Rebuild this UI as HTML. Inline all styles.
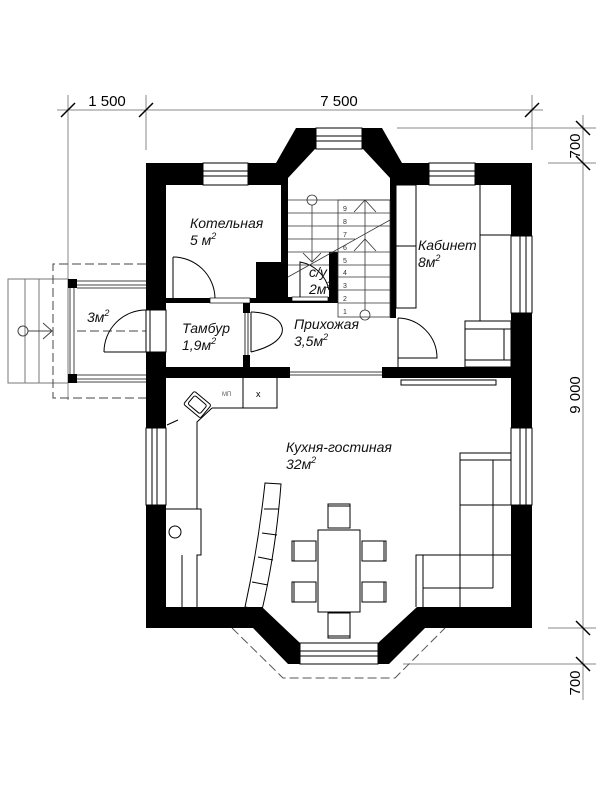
<!DOCTYPE html>
<html><head><meta charset="utf-8"><style>
html,body{margin:0;padding:0;background:#fff;}
svg{display:block;}
text{font-family:"Liberation Sans",sans-serif;}
.it{font-style:italic;font-size:14px;fill:#111;}
</style></head><body>
<svg width="600" height="800" viewBox="0 0 600 800" xmlns="http://www.w3.org/2000/svg">
<rect width="600" height="800" fill="#fff"/>
<g stroke="#888" stroke-width="1" fill="none">
<line x1="57" y1="110" x2="543" y2="110"/>
<line x1="68" y1="95" x2="68" y2="400"/>
<line x1="146" y1="95" x2="146" y2="150"/>
<line x1="532" y1="95" x2="532" y2="150"/>
<line x1="397" y1="128" x2="596" y2="128"/>
<line x1="548" y1="163" x2="596" y2="163"/>
<line x1="548" y1="628" x2="596" y2="628"/>
<line x1="403" y1="664" x2="596" y2="664"/>
<line x1="583" y1="115" x2="583" y2="700"/>
</g>
<g stroke="#000" stroke-width="1.5">
<line x1="61" y1="117" x2="75" y2="103"/>
<line x1="139" y1="117" x2="153" y2="103"/>
<line x1="525" y1="117" x2="539" y2="103"/>
<line x1="576" y1="121" x2="590" y2="135"/>
<line x1="576" y1="156" x2="590" y2="170"/>
<line x1="576" y1="621" x2="590" y2="635"/>
<line x1="576" y1="657" x2="590" y2="671"/>
</g>
<text x="107" y="106" font-size="15" text-anchor="middle">1 500</text>
<text x="339" y="106" font-size="15" text-anchor="middle">7 500</text>
<text transform="translate(580,146) rotate(-90)" font-size="15" text-anchor="middle">700</text>
<text transform="translate(580,395) rotate(-90)" font-size="15" text-anchor="middle">9 000</text>
<text transform="translate(580,683) rotate(-90)" font-size="15" text-anchor="middle">700</text>

<g stroke="#444" stroke-width="1" fill="none">
<rect x="8" y="279" width="60" height="104" stroke="#777"/>
<line x1="25" y1="279" x2="25" y2="383" stroke="#777"/>
<line x1="39" y1="279" x2="39" y2="383" stroke="#777"/>
<path d="M146 264 H53 V398 H146" stroke-dasharray="9,4"/>
<line x1="77" y1="331" x2="146" y2="331" stroke-dasharray="9,4"/>
<circle cx="23" cy="331" r="5"/>
<line x1="28" y1="331" x2="52" y2="331"/>
<polyline points="43,323 52,331 43,339"/>
<line x1="70" y1="288" x2="70" y2="374"/>
<line x1="74" y1="288" x2="74" y2="374"/>
<line x1="77" y1="281" x2="146" y2="281"/>
<line x1="77" y1="285" x2="146" y2="285"/>
<line x1="77" y1="288" x2="146" y2="288"/>
<line x1="77" y1="375" x2="146" y2="375"/>
<line x1="77" y1="379" x2="146" y2="379"/>
<line x1="77" y1="382" x2="146" y2="382"/>
</g>
<rect x="68" y="279" width="9" height="9" fill="#000"/>
<rect x="68" y="374" width="9" height="9" fill="#000"/>

<g stroke="#555" stroke-width="1" fill="none" stroke-dasharray="9,4">
<polyline points="232,628 283,678 395,678 445,628"/>
<polyline points="288,630 285,642"/>
<line x1="285" y1="628" x2="398" y2="628"/>
</g>

<polygon points="146,163 276,163 296,128 382,128 402,163 532,163 532,628 425,628 389,664 288,664 253,628 146,628" fill="#000"/>
<g fill="#fff">
<rect x="166" y="185" width="115" height="113"/>
<polygon points="288,178 315,149 363,149 390,178 390,367 250,367 250,303 288,303"/>
<rect x="166" y="303" width="77" height="64"/>
<rect x="396" y="185" width="115" height="182"/>
<polygon points="166,378 511,378 511,607 417,607 378,643 300,643 262,607 166,607"/>
<rect x="290" y="366" width="92" height="13"/>
<rect x="243" y="313" width="7" height="42"/>
<rect x="389" y="318" width="8" height="49"/>
</g>
<rect x="256" y="262" width="32" height="38" fill="#000"/>
<rect x="166" y="298" width="124" height="5" fill="#000"/>
<rect x="329" y="252" width="9" height="51" fill="#000"/>
<rect x="288" y="297" width="50" height="6" fill="#000"/>
<rect x="292" y="297" width="36" height="4" fill="#fff" stroke="#000" stroke-width="0.7"/>
<rect x="210" y="298" width="40" height="5" fill="#fff" stroke="#000" stroke-width="0.7"/>
<g fill="#fff" stroke="#000" stroke-width="1">
<rect x="203" y="163" width="45" height="22"/><line x1="203" y1="171" x2="248" y2="171"/><line x1="203" y1="176" x2="248" y2="176"/>
<rect x="316" y="128" width="46" height="21"/><line x1="316" y1="136" x2="362" y2="136"/><line x1="316" y1="141" x2="362" y2="141"/>
<rect x="429" y="163" width="46" height="22"/><line x1="429" y1="171" x2="475" y2="171"/><line x1="429" y1="176" x2="475" y2="176"/>
<rect x="511" y="236" width="21" height="77"/><line x1="520" y1="236" x2="520" y2="313"/><line x1="526" y1="236" x2="526" y2="313"/>
<rect x="511" y="428" width="21" height="77"/><line x1="520" y1="428" x2="520" y2="505"/><line x1="526" y1="428" x2="526" y2="505"/>
<rect x="146" y="428" width="20" height="77"/><line x1="152" y1="428" x2="152" y2="505"/><line x1="157" y1="428" x2="157" y2="505"/>
<rect x="300" y="643" width="78" height="21"/><line x1="300" y1="651" x2="378" y2="651"/><line x1="300" y1="656" x2="378" y2="656"/>
<rect x="146" y="310" width="20" height="42"/><line x1="150" y1="310" x2="150" y2="352"/>
</g>
<g stroke="#000" stroke-width="0.8" fill="none">
<line x1="290" y1="372" x2="382" y2="372"/>
<line x1="290" y1="375" x2="382" y2="375"/>
<line x1="245" y1="313" x2="245" y2="355"/>
<line x1="248" y1="313" x2="248" y2="355"/>
</g>
<g stroke="#000" stroke-width="1" fill="none">
<path d="M104 352 H146"/><path d="M104 352 A42 42 0 0 1 146 310"/>
<path d="M173 257 V298"/><path d="M173 257 A42 42 0 0 1 215 298"/>
<path d="M251 312 V352"/><path d="M251 312 C285 312 300 340 251 352"/>
<path d="M398 318 V367"/><path d="M398 318 A40 40 0 0 1 437 358 H398"/>
<path d="M300 297 V262 A36 36 0 0 1 329 290"/>
</g>
<g stroke="#333" stroke-width="0.8" fill="none">
<rect x="338" y="200" width="52" height="117"/>
<line x1="288" y1="200" x2="390" y2="200"/>
<line x1="288" y1="213" x2="390" y2="213"/>
<line x1="288" y1="226" x2="390" y2="226"/>
<line x1="288" y1="239" x2="355" y2="239"/>
<line x1="288" y1="252" x2="338" y2="252"/>
<line x1="288" y1="265" x2="329" y2="265"/>
<line x1="338" y1="252" x2="390" y2="252"/>
<line x1="338" y1="265" x2="390" y2="265"/>
<line x1="338" y1="277" x2="390" y2="277"/>
<line x1="338" y1="290" x2="390" y2="290"/>
<line x1="338" y1="303" x2="390" y2="303"/>
<line x1="288" y1="277" x2="390" y2="220"/>
<circle cx="312" cy="200" r="5"/>
<line x1="312" y1="205" x2="312" y2="262"/>
<polyline points="303,253 312,262 321,253"/>
<circle cx="365" cy="315" r="5"/>
<line x1="365" y1="310" x2="365" y2="200"/>
<polyline points="354,212 365,200 376,212"/>
<polyline points="354,251 365,239 376,251"/>
</g>
<g font-size="7" fill="#333">
<text x="343" y="211">9</text><text x="343" y="224">8</text><text x="343" y="237">7</text><text x="343" y="250">6</text><text x="343" y="263">5</text><text x="343" y="275">4</text><text x="343" y="288">3</text><text x="343" y="301">2</text><text x="343" y="314">1</text>
</g>
<g stroke="#000" stroke-width="1" fill="none">
<rect x="396" y="185" width="20" height="123"/><line x1="396" y1="246" x2="416" y2="246"/>
<line x1="480" y1="185" x2="480" y2="321"/><line x1="480" y1="235" x2="511" y2="235"/>
<rect x="465" y="321" width="46" height="46"/><line x1="465" y1="329" x2="511" y2="329"/><line x1="504" y1="329" x2="504" y2="360"/><line x1="465" y1="360" x2="511" y2="360"/>
<rect x="401" y="380" width="95" height="5"/>
</g>
<g stroke="#000" stroke-width="1" fill="none">
<path d="M212 408 H277 V378"/><line x1="243" y1="378" x2="243" y2="408"/>
<path d="M212 408 L197 422 V509"/>
<path d="M167 425 L178 420"/>
<rect x="186" y="396" width="22" height="17" rx="2" transform="rotate(40 197 405)"/>
<rect x="189" y="399" width="16" height="11" rx="2" transform="rotate(40 197 405)"/>
<path d="M166 509 H201 V555 H197 V607"/>
<line x1="182" y1="555" x2="182" y2="607"/>
<circle cx="175" cy="532" r="6"/>
<path d="M265 483 L281 484 Q276 550 262 610 L245 607 Q258 548 265 483 Z"/>
<line x1="279" y1="509" x2="264" y2="509"/><line x1="277" y1="535" x2="262" y2="533"/><line x1="273" y1="560" x2="258" y2="557"/><line x1="268" y1="585" x2="252" y2="582"/>
<rect x="318" y="530" width="42" height="82"/>
<rect x="328" y="504" width="22" height="24"/><line x1="328" y1="506" x2="350" y2="506"/>
<rect x="328" y="613" width="22" height="25"/><line x1="328" y1="636" x2="350" y2="636"/>
<rect x="292" y="541" width="24" height="20"/><line x1="294" y1="541" x2="294" y2="561"/>
<rect x="292" y="582" width="24" height="20"/><line x1="294" y1="582" x2="294" y2="602"/>
<rect x="362" y="541" width="24" height="20"/><line x1="384" y1="541" x2="384" y2="561"/>
<rect x="362" y="582" width="24" height="20"/><line x1="384" y1="582" x2="384" y2="602"/>
<path d="M511 453 H460 V555 H416 V607"/>
<line x1="460" y1="460" x2="511" y2="460"/>
<line x1="493" y1="460" x2="493" y2="588"/>
<line x1="460" y1="505" x2="511" y2="505"/>
<line x1="416" y1="555" x2="511" y2="555"/>
<line x1="423" y1="555" x2="423" y2="607"/>
<line x1="423" y1="588" x2="493" y2="588"/>
<line x1="460" y1="555" x2="460" y2="607"/>
</g>
<text x="256" y="397" font-size="9">x</text>
<text x="222" y="396" font-size="6" fill="#555">МП</text>
<text class="it" x="190" y="228">Котельная</text>
<text class="it" x="190" y="245">5 м<tspan font-size="9" dy="-6">2</tspan></text>
<text class="it" x="87" y="322">3м<tspan font-size="9" dy="-6">2</tspan></text>
<text class="it" x="182" y="333">Тамбур</text>
<text class="it" x="182" y="350">1,9м<tspan font-size="9" dy="-6">2</tspan></text>
<text class="it" x="294" y="329">Прихожая</text>
<text class="it" x="294" y="346">3,5м<tspan font-size="9" dy="-6">2</tspan></text>
<text class="it" x="309" y="277">с/у</text>
<text class="it" x="309" y="294">2м<tspan font-size="9" dy="-6">2</tspan></text>
<text class="it" x="418" y="250">Кабинет</text>
<text class="it" x="418" y="267">8м<tspan font-size="9" dy="-6">2</tspan></text>
<text class="it" x="286" y="452">Кухня-гостиная</text>
<text class="it" x="286" y="469">32м<tspan font-size="9" dy="-6">2</tspan></text>
</svg>
</body></html>
